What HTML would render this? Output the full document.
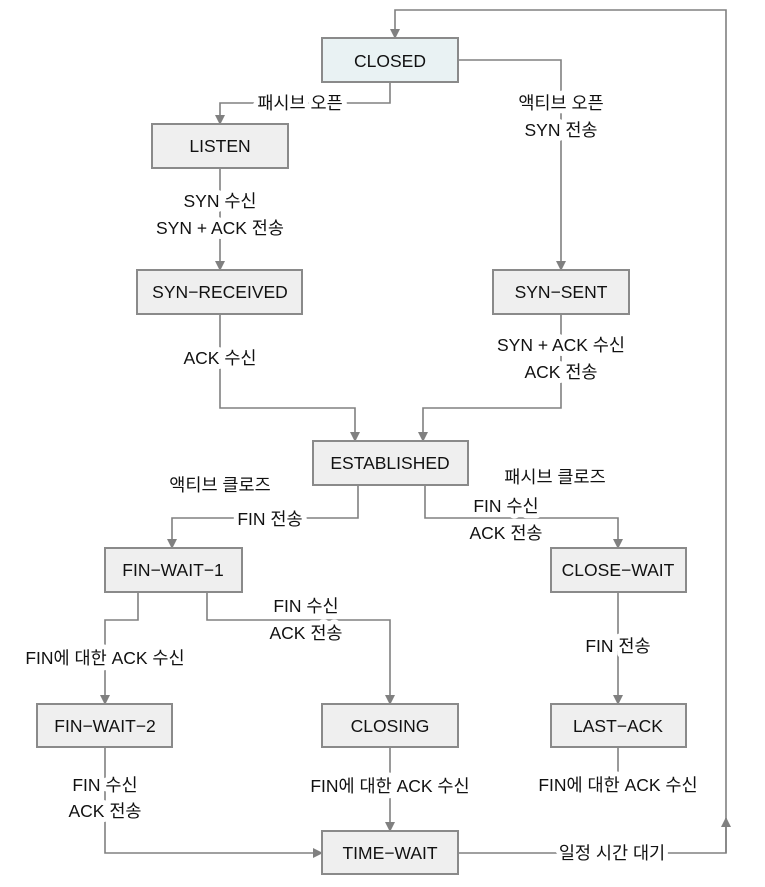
<!DOCTYPE html>
<html><head><meta charset="utf-8"><style>
html,body{margin:0;padding:0;background:#fff;}
svg{display:block;}
text{font-family:"Liberation Sans","Noto Sans CJK KR",sans-serif;font-size:17.5px;fill:#111;text-anchor:middle;dominant-baseline:central;}
.l{paint-order:stroke;stroke:#fff;stroke-width:10px;stroke-linejoin:round;}
.b{fill:#efefef;stroke:#8a8a8a;stroke-width:2;}
.ln{fill:none;stroke:#808080;stroke-width:1.6;}
</style></head><body>
<svg width="765" height="887" viewBox="0 0 765 887">
<defs><marker id="a" markerWidth="10" markerHeight="10" refX="9" refY="5" orient="auto" markerUnits="userSpaceOnUse"><path d="M0,0 L10,5 L0,10 z" fill="#808080"/></marker></defs>
<g class="ln" marker-end="url(#a)">
<path d="M458,853 H726 V10 H395 V38"/>
<path d="M726,853 V818"/>
<path d="M390,82 V103 H220 V124"/>
<path d="M458,60 H561 V270"/>
<path d="M220,168 V270"/>
<path d="M220,314 V408 H355 V441"/>
<path d="M561,314 V408 H423 V441"/>
<path d="M358,485 V518 H172 V548"/>
<path d="M425,485 V518 H618 V548"/>
<path d="M138,592 V620 H105 V704"/>
<path d="M207,592 V620 H390 V704"/>
<path d="M618,592 V704"/>
<path d="M105,747 V853 H322"/>
<path d="M390,747 V831"/>
</g>
<path class="ln" d="M618,747 V775"/>
<rect class="b" x="322" y="38" width="136" height="44" style="fill:#e9f2f3"/>
<rect class="b" x="152" y="124" width="136" height="44"/>
<rect class="b" x="137" y="270" width="165" height="44"/>
<rect class="b" x="493" y="270" width="136" height="44"/>
<rect class="b" x="313" y="441" width="155" height="44"/>
<rect class="b" x="105" y="548" width="137" height="44"/>
<rect class="b" x="551" y="548" width="135" height="44"/>
<rect class="b" x="37" y="704" width="135" height="43"/>
<rect class="b" x="322" y="704" width="136" height="43"/>
<rect class="b" x="551" y="704" width="135" height="43"/>
<rect class="b" x="322" y="831" width="136" height="43"/>
<text x="390" y="61">CLOSED</text>
<text x="220" y="146">LISTEN</text>
<text x="220" y="292">SYN−RECEIVED</text>
<text x="561" y="292">SYN−SENT</text>
<text x="390" y="463">ESTABLISHED</text>
<text x="173" y="570">FIN−WAIT−1</text>
<text x="618" y="570">CLOSE−WAIT</text>
<text x="105" y="726">FIN−WAIT−2</text>
<text x="390" y="726">CLOSING</text>
<text x="618" y="726">LAST−ACK</text>
<text x="390" y="853">TIME−WAIT</text>
<g class="l">
<text class="l" x="300" y="103">패시브 오픈</text>
<text class="l" x="561" y="103">액티브 오픈</text>
<text class="l" x="561" y="130">SYN 전송</text>
<text class="l" x="220" y="201">SYN 수신</text>
<text class="l" x="220" y="228">SYN + ACK 전송</text>
<text class="l" x="220" y="358">ACK 수신</text>
<text class="l" x="561" y="345">SYN + ACK 수신</text>
<text class="l" x="561" y="372">ACK 전송</text>
<text class="l" x="220" y="485">액티브 클로즈</text>
<text class="l" x="270" y="519">FIN 전송</text>
<text class="l" x="555" y="477">패시브 클로즈</text>
<text class="l" x="506" y="506">FIN 수신</text>
<text class="l" x="506" y="533">ACK 전송</text>
<text class="l" x="105" y="658">FIN에 대한 ACK 수신</text>
<text class="l" x="306" y="606">FIN 수신</text>
<text class="l" x="306" y="633">ACK 전송</text>
<text class="l" x="618" y="646">FIN 전송</text>
<text class="l" x="105" y="785">FIN 수신</text>
<text class="l" x="105" y="811">ACK 전송</text>
<text class="l" x="390" y="786">FIN에 대한 ACK 수신</text>
<text class="l" x="618" y="785">FIN에 대한 ACK 수신</text>
<text class="l" x="612" y="853">일정 시간 대기</text>
</g>
</svg>
</body></html>
